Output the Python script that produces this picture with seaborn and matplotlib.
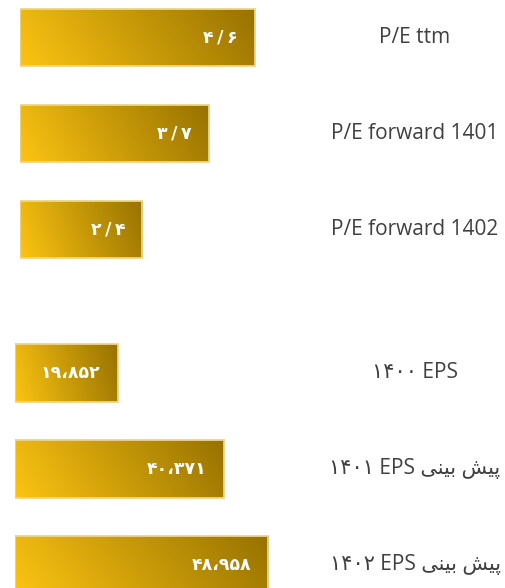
import numpy as np
import seaborn as sns
from matplotlib import pyplot as plt
from matplotlib import transforms
from matplotlib.colors import to_rgb

# data
pe_labels = ['P/E ttm', 'P/E forward 1401', 'P/E forward 1402']
pe_values = [4.6, 3.7, 2.4]

# persian labels are written in visual order with presentation forms (no shaping in matplotlib)
pish_bini = '\uFBFD\uFEE8\uFBFF\uFE91 \uFEB6\uFBFF\uFB58'
eps_labels = ['\u06F1\u06F4\u06F0\u06F0 EPS',
              '\u06F1\u06F4\u06F0\u06F1 EPS ' + pish_bini,
              '\u06F1\u06F4\u06F0\u06F2 EPS ' + pish_bini]
eps_values = [19852, 40371, 48958]

FA_DIGITS = str.maketrans('0123456789,', '\u06F0\u06F1\u06F2\u06F3\u06F4\u06F5\u06F6\u06F7\u06F8\u06F9\u060C')


def to_persian(v, decimals):
    if decimals:
        s = f'{v:.{decimals}f}'.replace('.', '\u2009/\u2009')
    else:
        s = f'{v:,.0f}'
    return s.translate(FA_DIGITS)


def gradient_img(c0, c1, nx=200, ny=50):
    xx, yy = np.meshgrid(np.linspace(0, 1, nx), np.linspace(0, 1, ny))
    t = 0.85 * xx + 0.15 * (1 - yy)
    c0 = np.array(to_rgb(c0))
    c1 = np.array(to_rgb(c1))
    return c0[None, None, :] * (1 - t[..., None]) + c1[None, None, :] * t[..., None]


def draw_group(ax, labels, values, decimals, xlim, ylim, fig):
    sns.barplot(x=values, y=labels, orient='h', width=0.6, ax=ax, color='#D4A106')
    ax.set_xlim(*xlim)
    ax.set_ylim(*ylim)
    ax.axis('off')
    img = gradient_img('#FCC412', '#977200')
    for p, v in zip(ax.patches, values):
        x0, y0, w, h = p.get_x(), p.get_y(), p.get_width(), p.get_height()
        im = ax.imshow(img, extent=(x0, x0 + w, y0 + h, y0), origin='upper',
                       aspect='auto', zorder=2, interpolation='bilinear')
        im.set_clip_path(p)
        p.set_facecolor('none')
        p.set_edgecolor('#EDD48E')
        p.set_linewidth(1.3)
        p.set_zorder(3)
        ax.annotate(to_persian(v, decimals), xy=(x0 + w, y0 + h / 2), xytext=(-17, 0),
                    textcoords='offset pixels', ha='right', va='center',
                    color='white', fontsize=12.5, fontweight='bold',
                    family=['DejaVu Sans'], zorder=4)
    trans = transforms.blended_transform_factory(fig.transFigure, ax.transData)
    for i, lab in enumerate(labels):
        ax.text(415 / 505, i, lab, transform=trans, ha='center', va='center',
                fontsize=15, color='#404040', family=['Open Sans', 'DejaVu Sans'])
    ax.set_autoscale_on(False)


sns.set_style('white')
fig = plt.figure(figsize=(5.05, 5.88), dpi=100)

W, H = 505, 588
ax_top = fig.add_axes([20 / W, 1 - 288 / H, 255 / W, 288 / H])
draw_group(ax_top, pe_labels, pe_values, 1, (0, 5), (2.61, -0.39), fig)

ax_bot = fig.add_axes([15 / W, 0, 258.4 / W, 288 / H])
draw_group(ax_bot, eps_labels, eps_values, 0, (0, 50000), (2.24, -0.76), fig)

fig.savefig('out.png', dpi=100)
